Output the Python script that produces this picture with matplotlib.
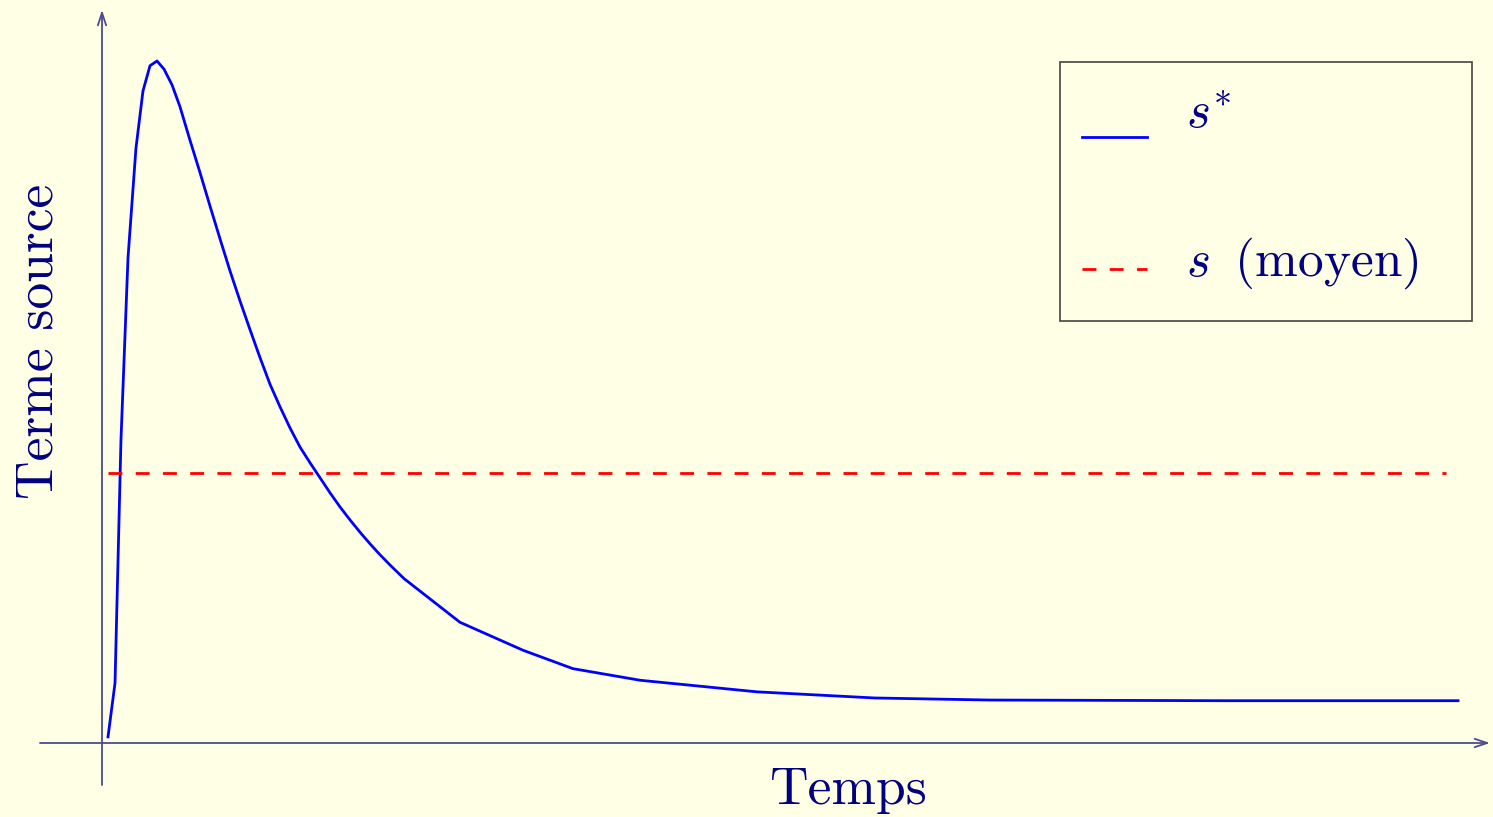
import matplotlib
matplotlib.use("Agg")
import numpy as np
import matplotlib.pyplot as plt
from matplotlib.legend_handler import HandlerLine2D

plt.rcParams['font.family'] = 'cmr10'
plt.rcParams['mathtext.fontset'] = 'cm'
plt.rcParams['axes.unicode_minus'] = False

# source term s*(t)
temps = [0.000, 0.052, 0.096, 0.148, 0.207, 0.259, 0.311, 0.363, 0.415, 0.474,
         0.533, 0.607, 0.682, 0.756, 0.830, 0.904, 0.978, 1.052, 1.126, 1.200,
         1.274, 1.348, 1.422, 1.496, 1.570, 1.644, 1.719, 1.793, 1.867, 1.941,
         2.015, 2.089, 2.193, 2.607, 3.074, 3.444, 3.941, 4.807, 5.681, 6.533,
         8.274, 10.000]
s_star = [0.009, 0.088, 0.444, 0.711, 0.872, 0.956, 0.993, 1.000, 0.988, 0.965,
          0.933, 0.884, 0.836, 0.787, 0.739, 0.692, 0.648, 0.606, 0.565, 0.526,
          0.493, 0.462, 0.434, 0.411, 0.389, 0.367, 0.346, 0.327, 0.309, 0.292,
          0.276, 0.261, 0.241, 0.177, 0.136, 0.109, 0.092, 0.075, 0.066, 0.063,
          0.062, 0.062]
# mean value s
s_mean = 0.396
t_mean = [0.0, 9.911]

bg = '#ffffe5'
navy = '#000080'
axis_col = '#4b4b8f'


class ShiftHandler(HandlerLine2D):
    # move the legend sample (offsets in units of font size)
    def __init__(self, dy, dx=0.0, **kw):
        super().__init__(**kw)
        self.dy = dy
        self.dx = dx

    def create_artists(self, legend, orig_handle, xdescent, ydescent,
                       width, height, fontsize, trans):
        artists = super().create_artists(legend, orig_handle, xdescent, ydescent,
                                         width, height, fontsize, trans)
        for a in artists:
            a.set_ydata(np.asarray(a.get_ydata()) - self.dy * fontsize)
            a.set_xdata(np.asarray(a.get_xdata()) - self.dx * fontsize)
        return artists


fig = plt.figure(figsize=(14.93, 8.17), dpi=100, facecolor=bg)
ax = fig.add_axes([0, 0, 1, 1])
ax.set_facecolor(bg)
ax.set_xlim(-0.8, 10.259)
ax.set_ylim(-0.1085, 1.0894)
ax.axis('off')

# axes with arrows
arrow = dict(arrowstyle='->,head_length=0.9,head_width=0.3', color=axis_col,
             lw=1.3, shrinkA=0, shrinkB=0)
ax.annotate('', xy=(10.237, 0), xytext=(-0.504, 0), arrowprops=arrow)
ax.annotate('', xy=(-0.0444, 1.0748), xytext=(-0.0444, -0.0616), arrowprops=arrow)

l1, = ax.plot(temps, s_star, color='#0000ff', lw=2.0, label=r'$s^{\ast}$')
l2, = ax.plot(t_mean, [s_mean, s_mean], color='#ff0000', lw=2.0,
              linestyle=(0, (5, 4.8)), label=r'$s\,$ (moyen)')

ax.text(0.568, 13 / 817, 'Temps', transform=ax.transAxes, fontsize=38.5,
        color=navy, ha='center', va='baseline')
ax.text(53 / 1493, 1 - 341 / 817, 'Terme source', transform=ax.transAxes,
        fontsize=38.5, color=navy, rotation=90, rotation_mode='anchor',
        ha='center', va='baseline')

leg = ax.legend(loc='upper left', bbox_to_anchor=(1060 / 1493, 1 - 62 / 817, 412 / 1493, 0),
                bbox_transform=fig.transFigure, mode='expand', borderaxespad=0,
                fontsize=37, handlelength=1.265, handletextpad=0.594,
                borderpad=0.59, labelspacing=1.89, frameon=True, fancybox=False,
                edgecolor='#444444', facecolor=bg, framealpha=1,
                handler_map={l1: ShiftHandler(0.51, 0.156),
                             l2: ShiftHandler(0.22, 0.156)})
leg.get_frame().set_linewidth(1.2)
for txt in leg.get_texts():
    txt.set_color(navy)

fig.savefig('out.png', dpi=100, facecolor=bg)
